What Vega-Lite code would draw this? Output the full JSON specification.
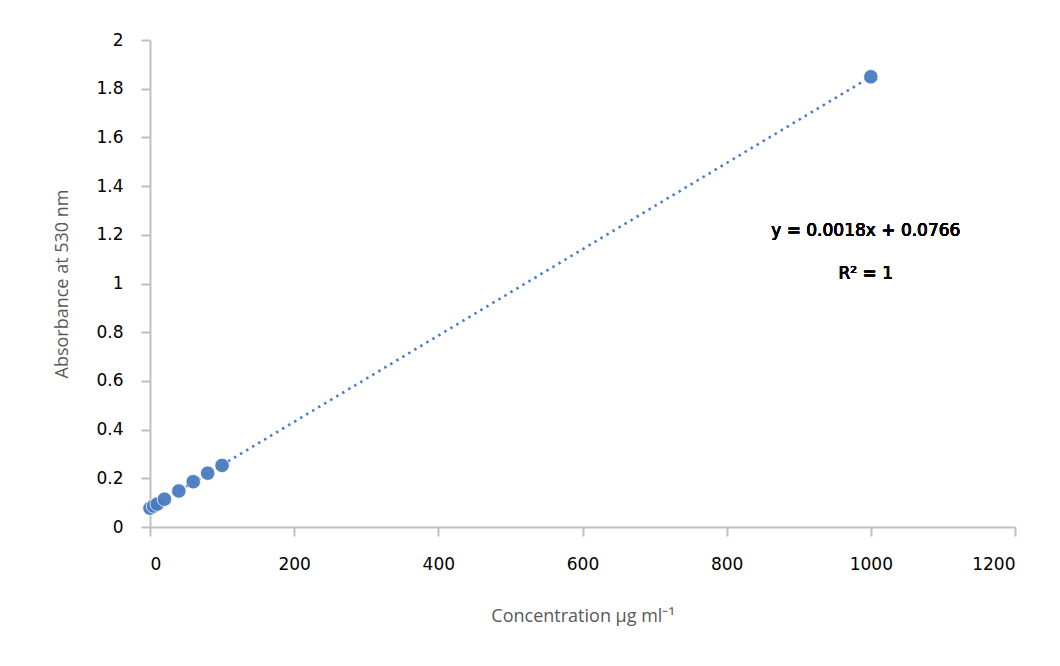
{
  "$schema": "https://vega.github.io/schema/vega-lite/v6.json",
  "autosize": {"type": "none"},
  "width": 865,
  "height": 487,
  "padding": {"left": 150, "top": 40, "right": 45, "bottom": 139},
  "background": "white",
  "config": {"view": {"stroke": null}},
  "data": {"values": [
    {"conc": 0, "abs": 0.077},
    {"conc": 5, "abs": 0.086},
    {"conc": 10, "abs": 0.094},
    {"conc": 20, "abs": 0.114},
    {"conc": 40, "abs": 0.148},
    {"conc": 60, "abs": 0.186},
    {"conc": 80, "abs": 0.221},
    {"conc": 100, "abs": 0.253},
    {"conc": 1000, "abs": 1.849}
  ]},
  "layer": [
    {
      "transform": [{"regression": "abs", "on": "conc"}],
      "mark": {"type": "line", "color": "#4a7ec4", "strokeWidth": 2.6, "strokeDash": [2.5, 4.5]},
      "encoding": {
        "x": {"field": "conc", "type": "quantitative"},
        "y": {"field": "abs", "type": "quantitative"}
      }
    },
    {
      "mark": {"type": "circle", "size": 210, "color": "#4a7cc0", "opacity": 0.95, "stroke": "white", "strokeWidth": 0.8},
      "encoding": {
        "x": {
          "field": "conc", "type": "quantitative",
          "scale": {"domain": [0, 1200], "nice": false, "zero": true},
          "axis": {
            "title": "Concentration μg ml⁻¹",
            "values": [0, 200, 400, 600, 800, 1000, 1200],
            "format": "d",
            "grid": false,
            "domainColor": "#bfbfbf", "domainWidth": 2,
            "tickColor": "#bfbfbf", "tickWidth": 2, "tickSize": 9,
            "labelFont": "DejaVu Sans", "labelFontSize": 17, "labelFontWeight": "normal", "labelColor": "#000000",
            "labelPadding": 20,
            "titleFont": "Open Sans", "titleFontSize": 18, "titleFontWeight": "normal", "titleColor": "#595959",
            "titlePadding": 35
          }
        },
        "y": {
          "field": "abs", "type": "quantitative",
          "scale": {"domain": [0, 2], "nice": false},
          "axis": {
            "title": "Absorbance at 530 nm",
            "values": [0, 0.2, 0.4, 0.6, 0.8, 1, 1.2, 1.4, 1.6, 1.8, 2],
            "format": ".1~f",
            "grid": false,
            "domainColor": "#bfbfbf", "domainWidth": 2,
            "tickColor": "#bfbfbf", "tickWidth": 2, "tickSize": 9,
            "labelFont": "DejaVu Sans", "labelFontSize": 17, "labelFontWeight": "normal", "labelColor": "#000000",
            "labelPadding": 18,
            "titleFont": "Open Sans", "titleFontSize": 18, "titleFontWeight": "normal", "titleColor": "#595959",
            "titlePadding": 24
          }
        }
      }
    },
    {
      "mark": {"type": "text", "text": "y = 0.0018x  + 0.0766", "font": "DejaVu Sans", "fontSize": 17, "fontWeight": "normal", "color": "#000000", "align": "center", "baseline": "middle"},
      "encoding": {"x": {"datum": 993}, "y": {"datum": 1.215}}
    },
    {
      "mark": {"type": "text", "text": "R² = 1", "font": "DejaVu Sans", "fontSize": 17, "fontWeight": "normal", "color": "#000000", "align": "center", "baseline": "middle"},
      "encoding": {"x": {"datum": 993}, "y": {"datum": 1.04}}
    }
  ]
}
